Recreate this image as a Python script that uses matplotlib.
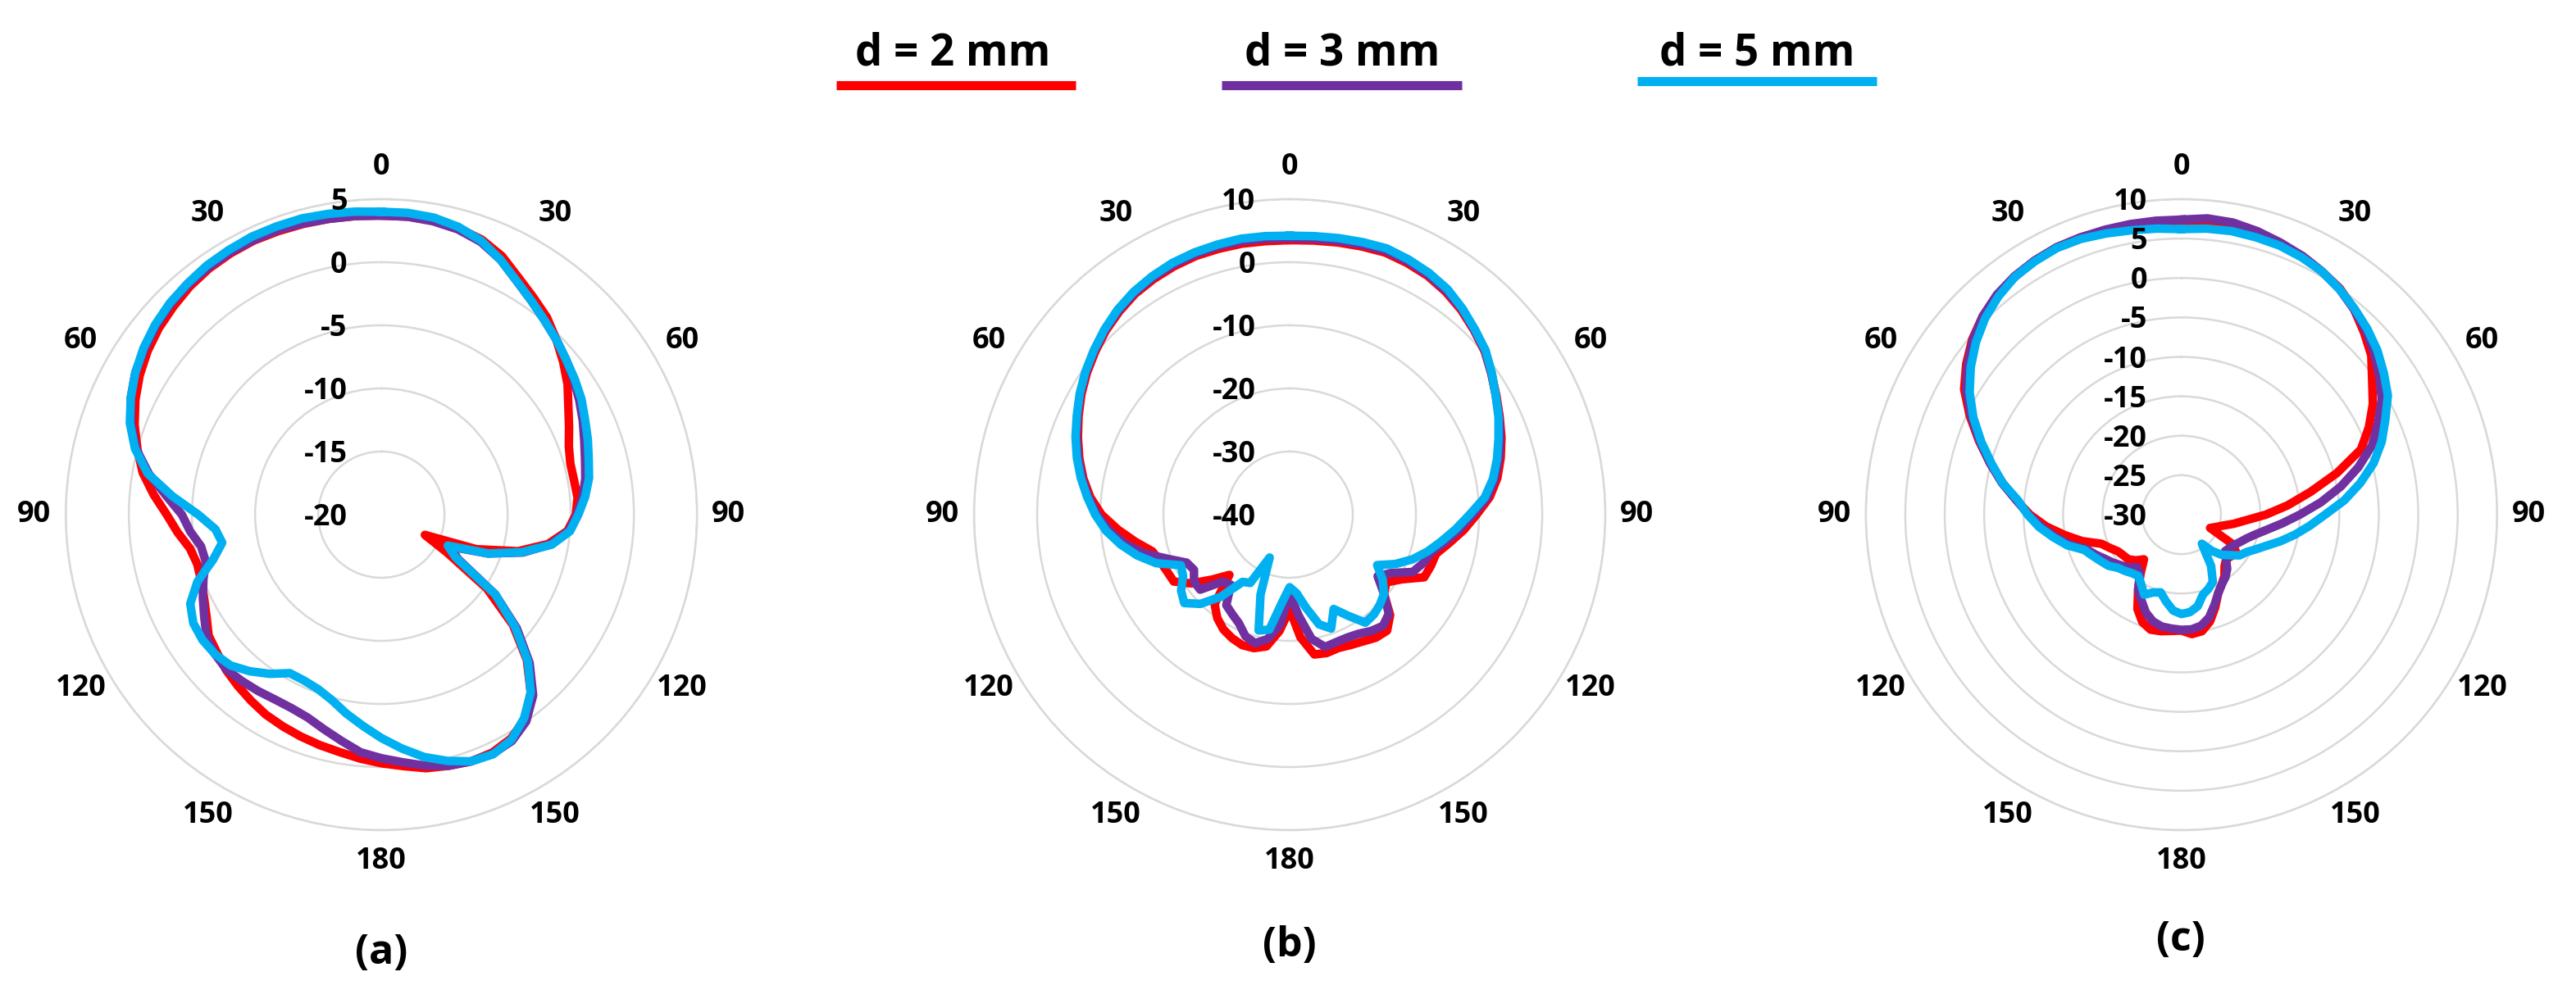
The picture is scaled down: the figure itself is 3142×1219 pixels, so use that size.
import numpy as np
import matplotlib
matplotlib.use('Agg')
import matplotlib.pyplot as plt
from matplotlib.lines import Line2D

plt.rcParams['font.family'] = ['Open Sans', 'DejaVu Sans']
plt.rcParams['font.weight'] = 'bold'

# measurement angles (deg, clockwise from top)
angles_deg = np.arange(0, 360, 5)

# ---- panel (a) ----
a_d2 = [3.7, 3.7, 3.7, 3.5, 3.2, 2.6, 1.7, 1.0, 0.4, -0.4, -1.2, -2.0,
        -2.9, -3.6, -4.2, -4.5, -4.5, -4.4, -4.6, -5.2, -6.6, -8.8, -12.0, -16.2,
        -14.0, -9.8, -6.4, -3.7, -1.6, -0.2, 0.5, 0.8, 0.8, 0.6, 0.4, 0.0,
        -0.3, -0.6, -0.9, -1.1, -1.3, -1.5, -1.7, -2.0, -2.3, -2.6, -3.0, -3.3,
        -4.0, -4.5, -4.8, -4.9, -4.6, -3.8, -3.0, -1.9, -0.8, 0.0, 0.8, 1.5,
        2.1, 2.6, 3.0, 3.3, 3.6, 3.8, 3.9, 3.95, 3.9, 3.85, 3.8, 3.75]
a_d3 = [3.7, 3.7, 3.6, 3.4, 3.0, 2.3, 1.4, 0.7, 0.1, -0.4, -0.9, -1.4,
        -1.9, -2.4, -2.9, -3.3, -3.6, -4.0, -4.5, -5.1, -6.4, -8.4, -11.0, -14.0,
        -13.0, -9.0, -6.0, -3.4, -1.3, 0.0, 0.7, 0.9, 0.8, 0.6, 0.2, -0.3,
        -0.7, -1.1, -1.8, -2.4, -2.9, -3.1, -3.1, -2.95, -2.8, -2.65, -2.8, -3.1,
        -3.8, -4.4, -5.0, -5.6, -5.5, -4.8, -4.2, -2.9, -1.3, 0.1, 1.1, 1.9,
        2.5, 2.9, 3.3, 3.6, 3.8, 3.9, 4.0, 4.0, 4.0, 3.9, 3.8, 3.75]
a_d5 = [4.0, 4.0, 3.9, 3.6, 3.1, 2.3, 1.4, 0.7, 0.1, -0.4, -0.9, -1.3,
        -1.7, -2.2, -2.6, -3.0, -3.3, -3.8, -4.4, -5.0, -6.3, -8.5, -11.0, -14.2,
        -13.2, -9.0, -6.2, -3.6, -1.6, -0.3, 0.6, 0.95, 0.8, 0.2, -0.5, -1.4,
        -2.3, -3.2, -4.0, -4.8, -5.3, -5.5, -5.5, -4.6, -3.8, -3.1, -2.8, -2.7,
        -2.8, -3.3, -4.5, -6.2, -7.2, -6.8, -5.5, -3.4, -1.2, 0.2, 1.2, 1.9,
        2.5, 3.0, 3.4, 3.7, 3.9, 4.1, 4.2, 4.3, 4.3, 4.3, 4.2, 4.1]

# ---- panel (b) ----
b_d2 = [3.5, 3.6, 3.8, 4.0, 4.2, 4.0, 3.7, 3.1, 2.3, 1.3, 0.3, -1.0,
        -2.2, -3.3, -4.3, -5.4, -6.6, -8.2, -10.4, -12.3, -14.3, -16.0, -16.2, -16.5,
        -19.5, -21.3, -20.5, -17.5, -16.0, -16.2, -16.8, -17.2, -17.5, -17.3, -17.5, -20.5,
        -25.0, -21.5, -18.8, -18.1, -18.0, -18.4, -19.0, -20.0, -21.5, -26.5, -24.0, -21.0,
        -18.8, -18.6, -18.2, -17.5, -15.2, -12.7, -10.2, -8.3, -6.8, -5.5, -4.3, -3.1,
        -1.9, -0.8, 0.2, 1.2, 2.0, 2.7, 3.1, 3.4, 3.6, 3.6, 3.6, 3.5]
b_d3 = [3.8, 3.9, 4.1, 4.3, 4.5, 4.3, 3.9, 3.3, 2.5, 1.4, 0.4, -1.0,
        -2.3, -3.4, -4.5, -5.7, -7.0, -8.6, -11.0, -13.0, -15.0, -16.8, -17.5, -18.5,
        -21.5, -23.0, -20.5, -17.8, -17.0, -17.5, -18.2, -18.5, -18.5, -18.3, -20.0, -24.0,
        -27.5, -22.5, -20.0, -18.9, -19.5, -21.0, -21.8, -22.5, -25.5, -25.0, -21.5, -21.5,
        -22.5, -22.0, -19.5, -16.2, -13.5, -11.3, -9.5, -8.0, -6.6, -5.3, -4.1, -2.9,
        -1.7, -0.6, 0.4, 1.4, 2.2, 2.9, 3.4, 3.7, 3.9, 4.0, 4.0, 3.9]
b_d5 = [4.2, 4.3, 4.5, 4.7, 4.9, 4.6, 4.2, 3.6, 2.6, 1.5, 0.5, -0.9,
        -2.3, -3.5, -4.8, -6.0, -7.3, -9.0, -11.5, -13.6, -15.6, -17.4, -19.3, -21.5,
        -24.0, -22.0, -20.5, -19.8, -19.3, -19.1, -21.5, -23.5, -20.8, -22.0, -25.0, -27.5,
        -28.5, -26.0, -21.5, -21.0, -26.5, -32.5, -27.5, -27.0, -23.0, -20.0, -18.2, -19.0,
        -20.5, -21.0, -17.5, -15.0, -12.8, -10.8, -9.2, -7.8, -6.4, -5.1, -3.9, -2.8,
        -1.6, -0.5, 0.5, 1.5, 2.4, 3.1, 3.6, 4.0, 4.2, 4.3, 4.4, 4.3]

# ---- panel (c) ----
c_d2 = [7.2, 7.4, 7.3, 6.6, 6.4, 6.2, 5.6, 5.0, 4.0, 2.7, 1.4, -0.5,
        -2.0, -3.8, -5.8, -9.6, -13.4, -16.5, -19.3, -21.8, -23.3, -24.6, -25.4, -26.0,
        -22.5, -21.5, -21.8, -22.0, -21.5, -20.5, -19.8, -19.0, -17.5, -16.0, -15.0, -14.8,
        -15.3, -15.2, -15.0, -14.9, -15.5, -16.8, -19.0, -21.0, -22.6, -21.8, -21.2, -21.0,
        -20.7, -20.0, -19.2, -17.0, -15.0, -12.8, -10.8, -9.0, -7.0, -4.9, -2.7, -0.4,
        1.8, 3.3, 4.6, 5.6, 6.3, 6.8, 7.2, 7.4, 7.4, 7.3, 7.2, 7.2]
c_d3 = [7.4, 7.7, 7.6, 7.2, 6.7, 6.2, 5.6, 4.9, 4.0, 3.0, 1.9, 0.6,
        -0.7, -2.5, -4.3, -6.8, -9.5, -12.3, -15.0, -17.2, -19.0, -20.3, -21.2, -21.8,
        -22.3, -22.6, -22.8, -22.0, -21.0, -20.3, -19.8, -19.0, -17.8, -16.5, -15.7, -15.4,
        -15.4, -15.5, -15.6, -16.0, -16.8, -18.0, -19.0, -20.8, -21.3, -20.5, -20.0, -19.4,
        -18.8, -18.0, -17.2, -15.3, -13.8, -12.2, -10.6, -9.0, -6.9, -4.9, -2.8, -0.6,
        1.5, 3.1, 4.5, 5.6, 6.4, 6.9, 7.2, 7.4, 7.4, 7.4, 7.4, 7.4]
c_d5 = [6.2, 6.4, 6.5, 6.4, 6.3, 6.0, 5.6, 4.9, 4.1, 3.3, 2.4, 1.3,
        0.2, -1.5, -3.0, -4.8, -7.0, -9.3, -11.8, -13.7, -15.4, -17.0, -18.5, -19.6,
        -20.5, -21.0, -22.0, -22.8, -24.0, -25.5, -22.5, -20.6, -20.0, -19.5, -18.2, -17.6,
        -17.4, -17.8, -18.8, -19.8, -19.5, -18.8, -19.8, -20.5, -20.3, -19.9, -19.5, -18.7,
        -18.2, -17.6, -16.9, -15.0, -13.5, -11.9, -10.5, -9.2, -7.0, -5.1, -3.0, -0.9,
        1.0, 2.6, 4.0, 5.2, 6.1, 6.8, 7.1, 7.3, 7.2, 6.9, 6.6, 6.4]

series_labels = ['d = 2 mm', 'd = 3 mm', 'd = 5 mm']
series_colors = ['#ff0000', '#7030a0', '#00b0f0']

theta_tick_angles = [0, 30, 60, 90, 120, 150, 180, 210, 240, 270, 300, 330]
theta_tick_labels = ['0', '30', '60', '90', '120', '150', '180',
                     '150', '120', '90', '60', '30']

panel_names = ['(a)', '(b)', '(c)']
panel_rmin = [-20, -40, -30]
panel_rmax = [5, 10, 10]
panel_rstep = [5, 10, 5]
panel_data = [[a_d2, a_d3, a_d5], [b_d2, b_d3, b_d5], [c_d2, c_d3, c_d5]]

fig = plt.figure(figsize=(31.42, 12.19), dpi=100)

# axes rectangles (figure fractions) and caption positions
rects = [[0.0255, 0.169, 0.2451, 0.6317],
         [0.3781, 0.169, 0.2451, 0.6317],
         [0.7243, 0.169, 0.2451, 0.6317]]
caption_pos = [(0.148, 0.046), (0.5006, 0.053), (0.8466, 0.059)]

grid_col = '#d9d9d9'
tick_fs = 26

for i in range(3):
    ax = fig.add_axes(rects[i], projection='polar')
    ax.set_theta_zero_location('N')
    ax.set_theta_direction(-1)
    rmin, rmax, step = panel_rmin[i], panel_rmax[i], panel_rstep[i]

    th = np.deg2rad(np.append(angles_deg, angles_deg[0]))
    for vals, col in zip(panel_data[i], series_colors):
        r = np.append(vals, vals[0])
        ax.plot(th, r, color=col, lw=7.5, solid_joinstyle='round')

    ax.set_ylim(rmin, rmax)
    rings = np.arange(rmin + step, rmax + step / 2, step)
    ax.set_yticks(rings)
    ax.set_yticklabels([])
    ax.yaxis.grid(True, color=grid_col, lw=1.8)
    ax.set_xticks([])
    ax.xaxis.grid(False)
    ax.spines['polar'].set_color(grid_col)
    ax.spines['polar'].set_linewidth(1.8)

    # ring value labels on the left of the 0-deg axis
    for v in np.arange(rmin, rmax + step / 2, step):
        ax.annotate(f'{v:g}', xy=(0, v), xytext=(-30, -3), textcoords='offset points',
                    ha='right', va='center', fontsize=tick_fs, fontweight='bold')

    # angle labels
    r_lab = rmin + 1.1 * (rmax - rmin)
    for a, lbl in zip(theta_tick_angles, theta_tick_labels):
        ax.text(np.deg2rad(a), r_lab, lbl, ha='center', va='center',
                fontsize=tick_fs, fontweight='bold', clip_on=False)

    fig.text(caption_pos[i][0], caption_pos[i][1], panel_names[i],
             ha='center', va='center', fontsize=36, fontweight='bold')

# legend across the top
leg_text_x = [0.370, 0.521, 0.682]
leg_lines = [(0.3246, 0.4176, 0.9147), (0.4742, 0.5675, 0.9147), (0.6356, 0.7285, 0.9188)]
for lbl, col, tx, (x0, x1, y) in zip(series_labels, series_colors, leg_text_x, leg_lines):
    fig.text(tx, 0.946, lbl, ha='center', va='center', fontsize=38, fontweight='bold')
    fig.add_artist(Line2D([x0, x1], [y, y], transform=fig.transFigure,
                          color=col, lw=8, solid_capstyle='butt'))

fig.savefig('out.png', dpi=100, facecolor='white')
